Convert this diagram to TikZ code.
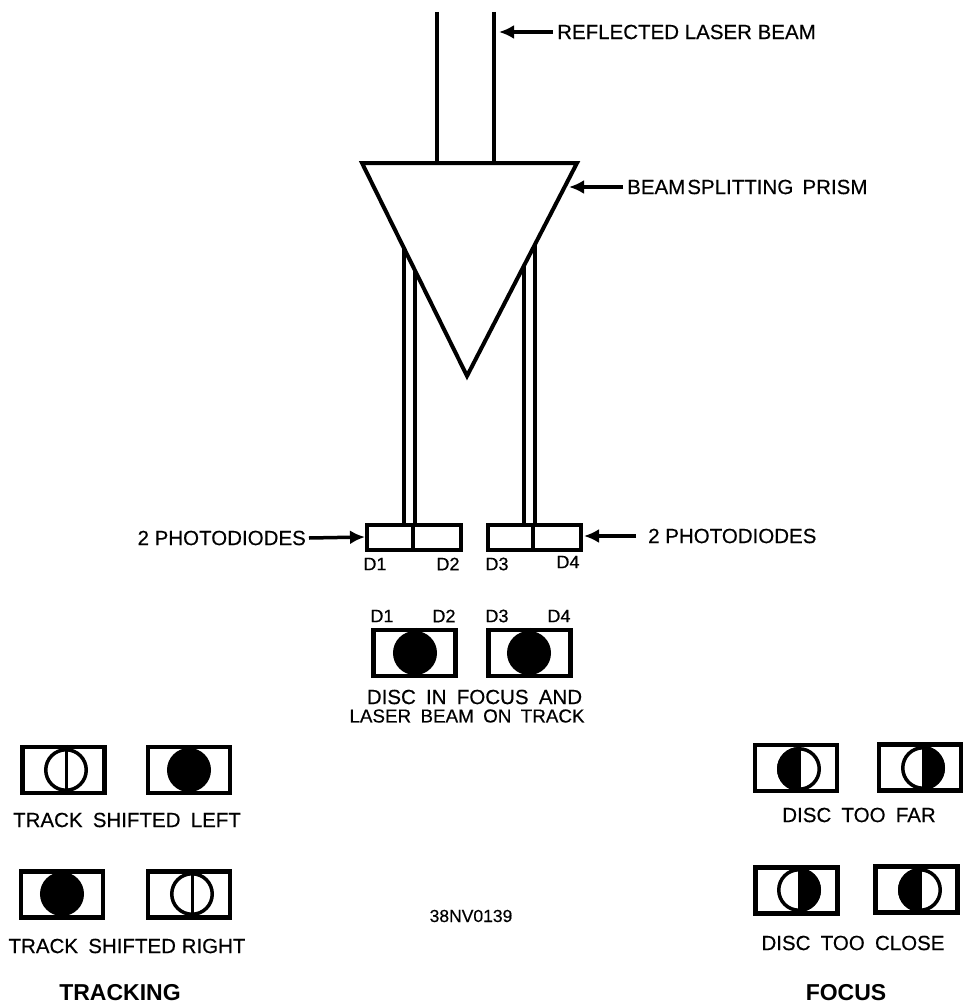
\documentclass[tikz,border=0pt]{standalone}
\usepackage{fontspec}
\setmainfont{Liberation Sans}
\newfontface\inkfont[FakeBold=0.4]{Liberation Sans}
\usetikzlibrary{arrows.meta}
\newcommand{\ws}{\hspace{0.5em}}
\tikzset{
  ln/.style={line width=4pt,line join=miter},
  txt/.style={inner sep=0pt,font=\inkfont\fontsize{20.5}{20}\selectfont},
  tight/.style={inner sep=0pt,font=\inkfont\fontsize{18.8}{20}\selectfont},
  small/.style={inner sep=0pt,font=\inkfont\fontsize{18}{18}\selectfont},
  head/.style={inner sep=0pt,font=\fontsize{23}{23}\selectfont\bfseries},
  cell/.style={draw,line width=4.5pt,inner sep=0pt,minimum width=#1,minimum height=46pt},
  cell/.default=82pt,
  spot/.style={circle,draw,line width=3.5pt,inner sep=0pt,minimum size=40.5pt},
  dark/.style={spot,fill=black},
  pd/.style={draw,line width=4pt,inner sep=0pt,minimum height=25pt},
  tick/.style={line width=3pt},
  arrow/.style={line width=3.5pt,-{Latex[length=15pt,width=14pt]}}
}
% #1 spot name, #2 cell name, #3 position
\newcommand{\openspot}[3]{%
  \node[spot] (#1) at #3 {};
  \draw[tick] (#1.center |- #2.north) -- (#1.center |- #2.south);
}
\newcommand{\darkspot}[3]{%
  \node[dark] (#1) at #3 {};
  \draw[tick] (#1.center |- #2.north) -- (#1.center |- #2.south);
}
% #1 spot name, #2 cell name, #3 start angle of filled half, #4 position
\newcommand{\halfspot}[4]{%
  \node[spot] (#1) at #4 {};
  \fill (#1.center) ++(#3:22pt) arc[start angle=#3,delta angle=180,radius=22pt] -- cycle;
  \draw[tick] (#1.center |- #2.north) -- (#1.center |- #2.south);
}
\begin{document}
\begin{tikzpicture}[x=1pt,y=-1pt]
\useasboundingbox (0,0) rectangle (964,1006);
% prism
\coordinate (pA) at (362,163);
\coordinate (pB) at (577,163);
\coordinate (pC) at (467,376);
\draw[ln] (pA) -- (pB) -- (pC) -- cycle;
% incoming beams
\coordinate (b1t) at (437,12);
\coordinate (b1b) at (437,163);
\coordinate (b2t) at (494,12);
\coordinate (b2b) at (494,163);
\draw[ln] (b1t) -- (b1b);
\draw[ln] (b2t) -- (b2b);
% photodiodes
\node[pd,minimum width=46pt,anchor=west] (d1) at (365,537) {};
\node[pd,minimum width=48pt,anchor=west] (d2) at (411,537) {};
\node[pd,minimum width=45pt,anchor=west] (d3) at (486,537) {};
\node[pd,minimum width=48pt,anchor=west] (d4) at (531,537) {};
% split beams
\coordinate (s1) at (404,248);
\coordinate (s2) at (415,270);
\coordinate (s3) at (524,266);
\coordinate (s4) at (535,244);
\draw[ln] (s1) -- (404,523);
\draw[ln] (s2) -- (415,523);
\draw[ln] (s3) -- (524,523);
\draw[ln] (s4) -- (535,523);
% callouts
\node[txt,anchor=west] (lb1) at (557,32) {REFLECTED LASER BEAM};
\node[txt,anchor=west] (lb2) at (627,187) {BEAM\hspace{0.1em}SPLITTING\hspace{0.45em}PRISM};
\node[txt,anchor=east] (lb3) at (306,538) {2 PHOTODIODES};
\node[txt,anchor=west] (lb4) at (648,536) {2 PHOTODIODES};
\coordinate (a1) at (499,32);
\coordinate (a2) at (569,187);
\coordinate (a4) at (584,536);
\draw[arrow] (lb1.west) ++(-4,0) -- (a1);
\draw[arrow] (lb2.west) ++(-4,0) -- (a2);
\draw[arrow] (lb3.east) ++(3,0) -- (d1.west);
\draw[arrow] (lb4.west) ++(-12,0) -- (a4);
\node[small] (t1) at (375,564) {D1};
\node[small] (t2) at (448,564) {D2};
\node[small] (t3) at (497,564) {D3};
\node[small] (t4) at (568,562) {D4};
% in-focus state
\node[small] (u1) at (382,616) {D1};
\node[small] (u2) at (444,616) {D2};
\node[small] (u3) at (497,616) {D3};
\node[small] (u4) at (559,616) {D4};
\node[cell] (c1) at (414.5,653) {};
\node[cell] (c2) at (529.5,653) {};
\darkspot{f1}{c1}{(415,653)}
\darkspot{f2}{c2}{(529,653)}
\node[txt] (m1) at (474.5,697) {DISC\ws IN\ws FOCUS\ws AND};
\node[tight] (m2) at (467,716) {LASER\ws BEAM\ws ON\ws TRACK};
% tracking
\node[cell] (ta) at (63.5,770) {};
\node[cell] (tb) at (189,770) {};
\node[cell] (tc) at (62,894.5) {};
\node[cell] (td) at (189,894.5) {};
\openspot{sa}{ta}{(66,770)}
\darkspot{sb}{tb}{(189,770)}
\darkspot{sc}{tc}{(62,894)}
\openspot{sd}{td}{(192,894)}
\node[txt] (ll) at (127,820) {TRACK\ws SHIFTED\ws LEFT};
\node[txt] (lr) at (127,946) {TRACK\ws SHIFTED RIGHT};
\node[head] (tr) at (120,993) {TRACKING};
% focus
\node[cell] (fa) at (796,768) {};
\node[cell] (fb) at (920,767.5) {};
\node[cell] (fc) at (796.5,890.5) {};
\node[cell] (fd) at (916.5,889.5) {};
\halfspot{ga}{fa}{90}{(799,769)}
\halfspot{gb}{fb}{-90}{(923,768)}
\halfspot{gc}{fc}{-90}{(799,890)}
\halfspot{gd}{fd}{90}{(920,890)}
\node[txt] (lf) at (859,815) {DISC\ws TOO\ws FAR};
\node[txt] (lc) at (853,943) {DISC\ws TOO\ws CLOSE};
\node[head] (fo) at (846,993) {FOCUS};
\node[small,font=\inkfont\fontsize{17.5}{18}\selectfont] (code) at (471,916) {38NV0139};
\end{tikzpicture}
\end{document}
